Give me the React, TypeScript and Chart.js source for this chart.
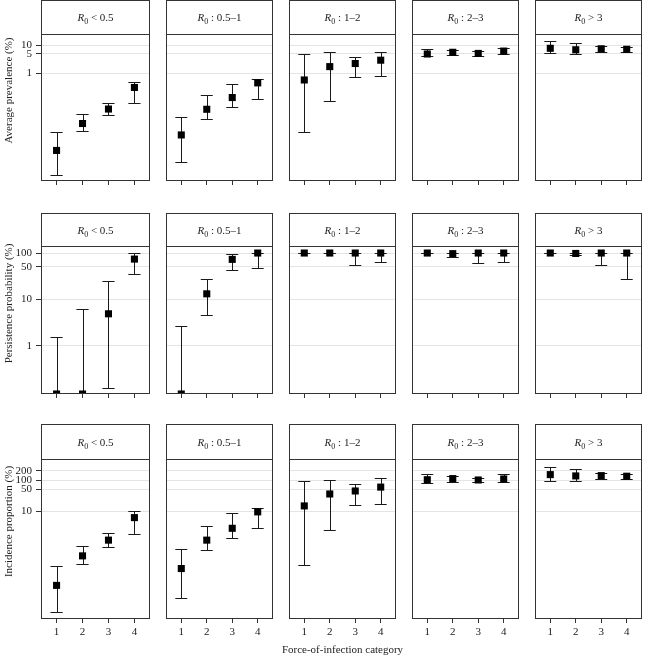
import React, { useEffect, useRef } from 'react';
import { Chart, registerables } from 'chart.js';

Chart.register(...registerables);

const FONT = '"Liberation Serif", "DejaVu Serif", serif';
const INK = '#222';

// Force-of-infection categories (x axis) and R0 groups (facet columns)
const CATEGORIES = [1, 2, 3, 4];
const R0_GROUPS = ['< 0.5', ': 0.5–1', ': 1–2', ': 2–3', '> 3'];

// Tick values of each row's log axis
const PREVALENCE_TICKS = [1, 5, 10];
const PERSISTENCE_TICKS = [1, 10, 50, 100];
const INCIDENCE_TICKS = [10, 50, 100, 200];

// Average prevalence (%): one row per R0 group, one value per category
const PREVALENCE = [
  [0.0016, 0.015, 0.05, 0.3],
  [0.0058, 0.049, 0.13, 0.44],
  [0.56, 1.7, 2.2, 2.9],
  [4.85, 5.6, 5.1, 6.2],
  [7.8, 6.9, 7.5, 7.2],
];
const PREVALENCE_LOW = [
  [0.00021, 0.0081, 0.03, 0.08],
  [0.0006, 0.022, 0.059, 0.12],
  [0.0072, 0.1, 0.7, 0.8],
  [4.2, 4.5, 4.2, 4.85],
  [5.1, 4.85, 5.9, 5.7],
];
const PREVALENCE_HIGH = [
  [0.0072, 0.032, 0.085, 0.49],
  [0.025, 0.16, 0.39, 0.59],
  [4.7, 5.6, 3.7, 5.7],
  [7.5, 6.9, 6.2, 8.2],
  [14.3, 11.8, 9.4, 8.7],
];

// Persistence probability (%); zero sits on the bottom edge of the log axis
const PERSISTENCE = [
  [0, 0, 4.9, 74],
  [0, 13.2, 73, 100],
  [100, 100, 100, 100],
  [100, 97, 100, 100],
  [100, 98, 100, 100],
];
const PERSISTENCE_LOW = [
  [0, 0, 0.126, 36],
  [0, 4.55, 43, 47],
  [98, 98, 55, 64],
  [98, 83, 60, 63],
  [98, 89, 55, 28],
];
const PERSISTENCE_HIGH = [
  [1.57, 6.1, 25, 100],
  [2.67, 28, 95, 100],
  [100, 100, 100, 100],
  [100, 100, 100, 100],
  [100, 100, 100, 100],
];

// Incidence proportion (%)
const INCIDENCE = [
  [0.04, 0.36, 1.16, 6.2],
  [0.14, 1.16, 2.8, 9.5],
  [14.8, 36, 45, 60],
  [104, 113, 102, 110],
  [152, 138, 141, 135],
];
const INCIDENCE_LOW = [
  [0.0054, 0.2, 0.72, 1.8],
  [0.016, 0.55, 1.4, 2.9],
  [0.18, 2.4, 15.6, 17.2],
  [84, 90, 88, 88],
  [93, 93, 113, 113],
];
const INCIDENCE_HIGH = [
  [0.17, 0.74, 2.0, 10.2],
  [0.58, 3.3, 8.6, 12.5],
  [97, 102, 76, 116],
  [156, 138, 121, 156],
  [275, 226, 176, 163],
];

const MEASURES = [
  { title: 'Average prevalence (%)', ticks: PREVALENCE_TICKS, min: 1.26e-4, max: 25.6, mid: PREVALENCE, lo: PREVALENCE_LOW, hi: PREVALENCE_HIGH },
  { title: 'Persistence probability (%)', ticks: PERSISTENCE_TICKS, min: 0.0914, max: 141.8, mid: PERSISTENCE, lo: PERSISTENCE_LOW, hi: PERSISTENCE_HIGH },
  { title: 'Incidence proportion (%)', ticks: INCIDENCE_TICKS, min: 0.00328, max: 486, mid: INCIDENCE, lo: INCIDENCE_LOW, hi: INCIDENCE_HIGH },
];

// Page layout of the facet grid
const COL_LEFT = [41, 164, 287, 410, 533];
const PANEL_W = 111;
const ROW_LAYOUT = [
  { stripTop: 0, plotTop: 34, plotBottom: 181 },
  { stripTop: 213, plotTop: 246, plotBottom: 394 },
  { stripTop: 424, plotTop: 459, plotBottom: 619 },
];
const CAP_HALF = 0.235; // half-width of whisker caps, in category units

// Whiskers from lo to hi for every category
const errorBars = {
  id: 'errorBars',
  beforeDatasetsDraw(chart: any, _args: any, opts: any) {
    const { ctx, chartArea, scales } = chart;
    const x = scales.x;
    const y = scales.y;
    ctx.save();
    ctx.beginPath();
    ctx.rect(chartArea.left, chartArea.top, chartArea.right - chartArea.left, chartArea.bottom - chartArea.top);
    ctx.clip();
    ctx.strokeStyle = '#1a1a1a';
    ctx.lineWidth = 1;
    CATEGORIES.forEach((c: number, i: number) => {
      const cx = Math.round(x.getPixelForValue(c)) + 0.5;
      const x0 = x.getPixelForValue(c - CAP_HALF);
      const x1 = x.getPixelForValue(c + CAP_HALF);
      const yl = Math.round(y.getPixelForValue(opts.lo[i])) + 0.5;
      const yh = Math.round(y.getPixelForValue(opts.hi[i])) + 0.5;
      ctx.beginPath();
      ctx.moveTo(cx, yl);
      ctx.lineTo(cx, yh);
      ctx.moveTo(x0, yl);
      ctx.lineTo(x1, yl);
      ctx.moveTo(x0, yh);
      ctx.lineTo(x1, yh);
      ctx.stroke();
    });
    ctx.restore();
  },
};

// Panel border, strip box and strip label with italic R and subscript 0
const panelFrame = {
  id: 'panelFrame',
  afterDraw(chart: any, _args: any, opts: any) {
    const { ctx, chartArea } = chart;
    const { left, right, top, bottom } = chartArea;
    const st = top - opts.stripH;
    ctx.save();
    ctx.fillStyle = '#fff';
    ctx.fillRect(left, st, right - left, top - st);
    ctx.strokeStyle = '#333';
    ctx.lineWidth = 1;
    const l = Math.floor(left) + 0.5;
    const r = Math.floor(right) - 0.5;
    const t = Math.floor(st) + 0.5;
    const b = Math.floor(bottom) - 0.5;
    ctx.strokeRect(l, t, r - l, b - t);
    ctx.beginPath();
    ctx.moveTo(l, Math.floor(top) + 0.5);
    ctx.lineTo(r, Math.floor(top) + 0.5);
    ctx.stroke();

    const parts = [
      { t: 'R', font: `italic 11px ${FONT}`, dy: 0 },
      { t: '0', font: `8px ${FONT}`, dy: 3 },
      { t: ' ' + opts.label, font: `11px ${FONT}`, dy: 0 },
    ];
    let total = 0;
    const widths = parts.map((p) => {
      ctx.font = p.font;
      const w = ctx.measureText(p.t).width;
      total += w;
      return w;
    });
    let px = (left + right) / 2 - total / 2;
    const base = st + opts.stripH / 2 + 4;
    ctx.fillStyle = INK;
    ctx.textAlign = 'left';
    ctx.textBaseline = 'alphabetic';
    parts.forEach((p, i) => {
      ctx.font = p.font;
      ctx.fillText(p.t, px, base + p.dy);
      px += widths[i];
    });
    ctx.restore();
  },
};

// Rotated y-axis title, centred on the whole panel height
const rowTitle = {
  id: 'rowTitle',
  afterDraw(chart: any, _args: any, opts: any) {
    if (!opts.text) return;
    const { ctx } = chart;
    ctx.save();
    ctx.translate(opts.x, opts.y);
    ctx.rotate(-Math.PI / 2);
    ctx.font = `11px ${FONT}`;
    ctx.fillStyle = INK;
    ctx.textAlign = 'center';
    ctx.textBaseline = 'middle';
    ctx.fillText(opts.text, 0, 0);
    ctx.restore();
  },
};

function Panel({ row, col }: { row: number; col: number }) {
  const ref = useRef<HTMLCanvasElement | null>(null);
  const m = MEASURES[row];
  const L = ROW_LAYOUT[row];
  const first = col === 0;
  const canvasLeft = first ? 0 : COL_LEFT[col] - 3;
  const canvasTop = Math.max(0, L.stripTop - 2);
  const width = COL_LEFT[col] + PANEL_W + 3 - canvasLeft;
  const xAxisH = row === 2 ? 24 : 6;
  const padBottom = 6;
  const height = L.plotBottom - canvasTop + xAxisH + padBottom;

  useEffect(() => {
    const canvas = ref.current;
    if (!canvas) return;
    const chart = new Chart(canvas, {
      type: 'scatter',
      data: {
        datasets: [
          {
            // a zero estimate cannot sit on a log axis, so it is drawn on the axis floor
            data: CATEGORIES.map((c, i) => {
              const v = m.mid[col][i];
              return { x: c, y: v === 0 ? m.min : v };
            }),
            pointStyle: 'rect',
            pointRadius: 5,
            pointHoverRadius: 5,
            backgroundColor: '#000',
            borderWidth: 0,
            clip: 0,
          } as any,
        ],
      },
      options: {
        animation: false,
        responsive: false,
        events: [],
        layout: {
          padding: { left: first ? 0 : 3, right: 3, top: L.plotTop - canvasTop, bottom: padBottom },
        },
        plugins: {
          legend: { display: false },
          tooltip: { enabled: false },
          errorBars: { lo: m.lo[col], hi: m.hi[col] },
          panelFrame: { stripH: L.plotTop - L.stripTop, label: R0_GROUPS[col] },
          rowTitle: first
            ? { text: m.title, x: 9, y: (L.stripTop + L.plotBottom) / 2 - canvasTop }
            : { text: '' },
        } as any,
        scales: {
          x: {
            type: 'linear',
            min: 0.4,
            max: 4.6,
            afterBuildTicks: (s: any) => {
              s.ticks = CATEGORIES.map((v) => ({ value: v }));
            },
            afterFit: (s: any) => {
              s.height = xAxisH;
              s.paddingLeft = 0;
              s.paddingRight = 0;
              s.paddingTop = 0;
              s.paddingBottom = 0;
            },
            ticks: {
              display: row === 2,
              autoSkip: false,
              maxRotation: 0,
              padding: 3,
              color: INK,
              font: { family: FONT, size: 11 },
              callback: (v: any) => String(v),
            },
            grid: {
              display: true,
              drawOnChartArea: false,
              drawTicks: true,
              tickLength: 4,
              tickColor: '#333',
              color: '#333',
            },
            border: { display: false },
          },
          y: {
            type: 'logarithmic',
            min: m.min,
            max: m.max,
            afterBuildTicks: (s: any) => {
              s.ticks = m.ticks.map((v) => ({ value: v }));
            },
            afterFit: (s: any) => {
              s.width = first ? COL_LEFT[0] : 0;
              s.paddingLeft = 0;
              s.paddingRight = 0;
              s.paddingTop = 0;
              s.paddingBottom = 0;
            },
            ticks: {
              display: first,
              autoSkip: false,
              padding: 4,
              color: INK,
              font: { family: FONT, size: 11 },
              callback: (v: any) => String(v),
            },
            grid: {
              color: '#e4e4e4',
              lineWidth: 1,
              drawTicks: first,
              tickLength: 5,
              tickColor: '#333',
            },
            border: { display: false },
          },
        },
      } as any,
      plugins: [errorBars, panelFrame, rowTitle],
    });
    return () => chart.destroy();
  }, []);

  return (
    <canvas
      ref={ref}
      width={width}
      height={height}
      style={{ position: 'absolute', left: canvasLeft, top: canvasTop, width, height }}
    />
  );
}

export default function App() {
  const cells: React.ReactNode[] = [];
  MEASURES.forEach((_m, row) => {
    R0_GROUPS.forEach((_g, col) => {
      cells.push(<Panel key={`${row}-${col}`} row={row} col={col} />);
    });
  });
  return (
    <div
      style={{
        position: 'absolute',
        left: 0,
        top: 0,
        width: 646,
        height: 655,
        background: '#fff',
        overflow: 'hidden',
      }}
    >
      {cells}
      <div
        style={{
          position: 'absolute',
          left: COL_LEFT[0],
          width: COL_LEFT[4] + PANEL_W - COL_LEFT[0],
          top: 642,
          lineHeight: '14px',
          textAlign: 'center',
          fontFamily: FONT,
          fontSize: 11,
          color: INK,
        }}
      >
        Force-of-infection category
      </div>
    </div>
  );
}
